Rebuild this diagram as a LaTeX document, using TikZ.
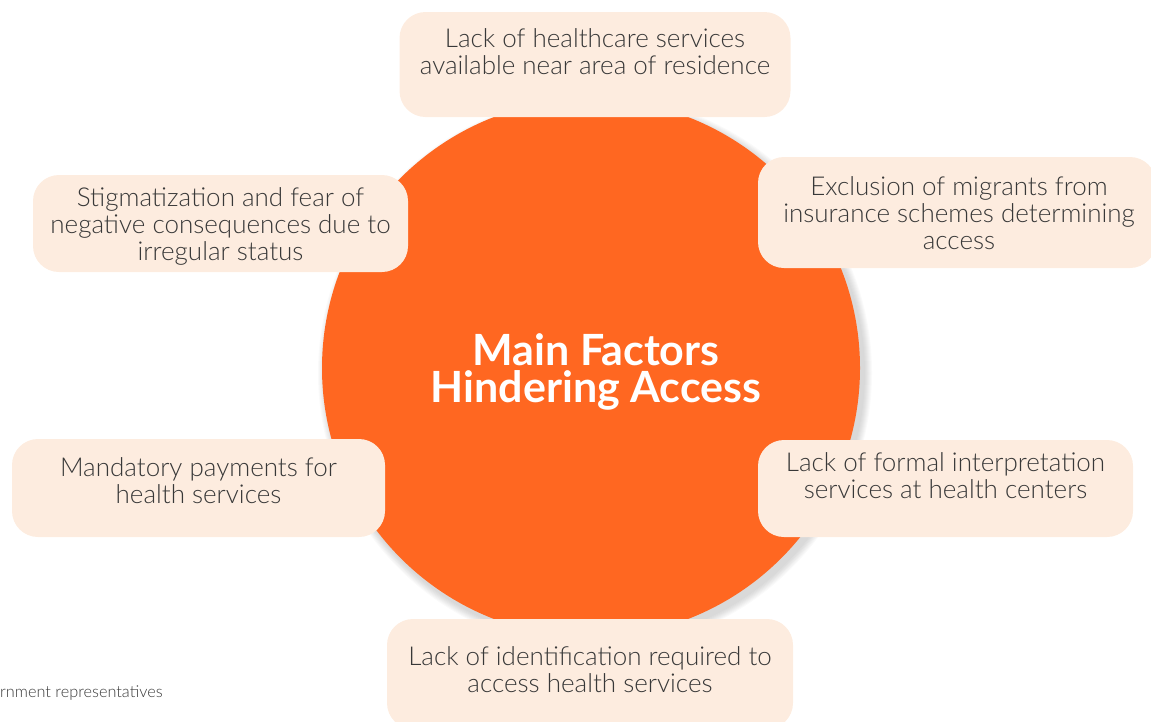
\documentclass[tikz,border=0pt]{standalone}
\usepackage{fontspec}
\setmainfont{Lato}[UprightFont=* Light, BoldFont=* Bold]
\usetikzlibrary{calc,positioning}
\definecolor{factororange}{HTML}{FF6721}
\definecolor{factorpeach}{HTML}{FDECDF}
\definecolor{factorgray}{HTML}{383838}
\tikzset{
	factorbox/.style={fill=factorpeach, rounded corners=26pt, inner sep=0pt},
	factortext/.style={anchor=base, align=center, text=factorgray, inner sep=0pt, font=\fontsize{26}{27}\selectfont},
	hubtitle/.style={anchor=base, align=center, text=white, inner sep=0pt, font=\fontsize{43}{37}\selectfont\bfseries},
}

\begin{document}
\begin{tikzpicture}[x=1pt, y=-1pt]
		%%%%% START %%%%%
		
		\useasboundingbox (0, 0) rectangle (1151, 721);
		\clip (0, 0) rectangle (1151, 721);
		
		% soft shadow of the circle
		\foreach \s in {1,...,8}
			\fill[black, opacity=0.02] (595, 373) circle ({269+\s});
		
		\node[circle, fill=factororange, minimum size=538pt, inner sep=0pt] (hub) at (591, 368) {};
		\node[hubtitle] (title) at ([xshift=5pt, yshift=-34pt]hub.center) {Main Factors\\Hindering Access};
		
		% the six factors (text anchored on its last baseline)
		\node[factorbox, minimum width=391pt, minimum height=105pt] (srvc) at (595, 64.5) {};
		\node[factortext] (srvcT) at ([yshift=-63pt]srvc.north) {Lack of healthcare services\\available near area of residence};
		
		\node[factorbox, minimum width=375pt, minimum height=97pt] (stig) at (220.5, 223.5) {};
		\node[factortext] (stigT) at ([yshift=-86pt]stig.north) {Stigmatization and fear of\\negative consequences due to\\irregular status};
		
		\node[factorbox, minimum width=398pt, minimum height=111pt] (insr) at (957, 212.5) {};
		\node[factortext] (insrT) at ([xshift=2pt, yshift=-93pt]insr.north) {Exclusion of migrants from\\insurance schemes determining\\access};
		
		\node[factorbox, minimum width=373pt, minimum height=98pt] (pay) at (198.5, 488) {};
		\node[factortext] (payT) at ([yshift=-65pt]pay.north) {Mandatory payments for\\health services};
		
		\node[factorbox, minimum width=375pt, minimum height=97pt] (interp) at (945.5, 488.5) {};
		\node[factortext] (interpT) at ([yshift=-59pt]interp.north) {Lack of formal interpretation\\services at health centers};
		
		\node[factorbox, minimum width=406pt, minimum height=110pt] (ident) at (590, 674) {};
		\node[factortext] (identT) at ([yshift=-74pt]ident.north) {Lack of identification required to\\access health services};
		
		% source line, cut at the left edge
		\node[anchor=base west, inner sep=0pt, text=factorgray, font=\fontsize{16.3}{18}\selectfont] (src) at (0, 697) {rnment representatives};
		
		%%%%% END %%%%%
	\end{tikzpicture}
\end{document}
